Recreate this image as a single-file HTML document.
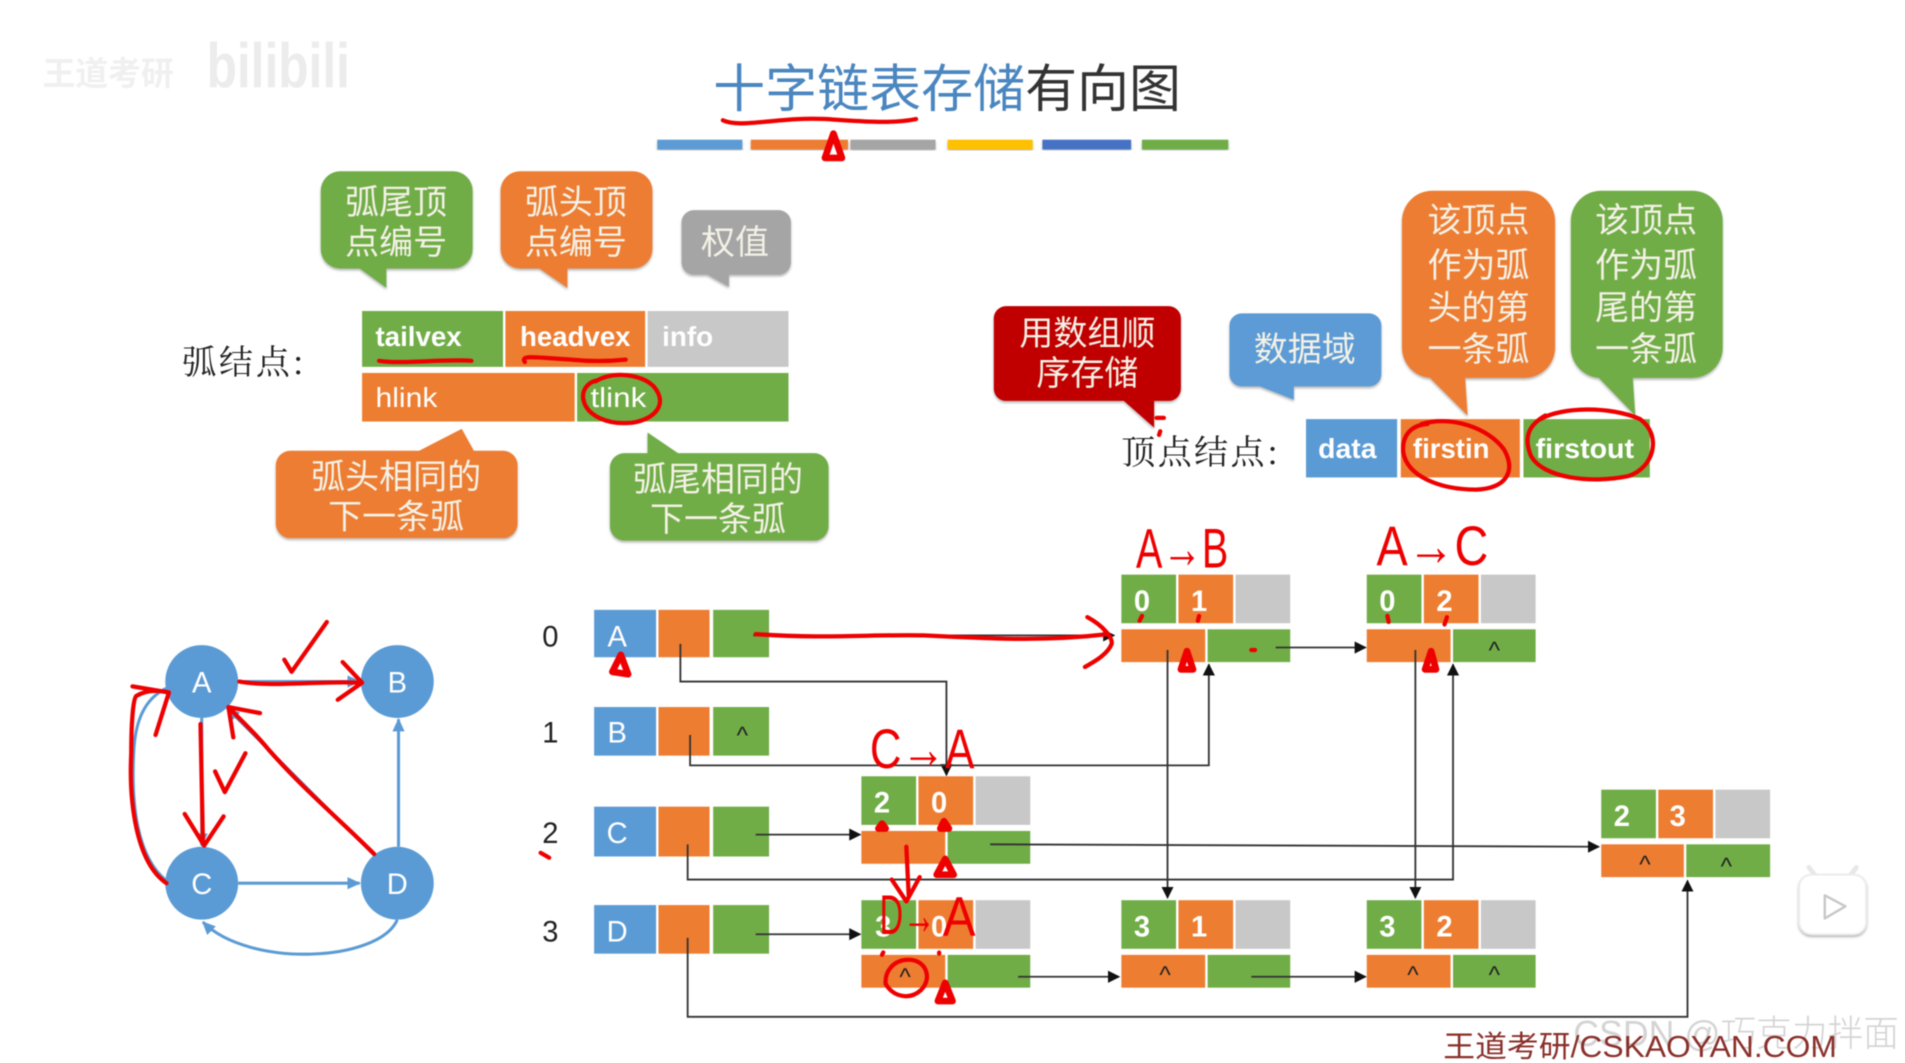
<!DOCTYPE html>
<html lang="zh"><head><meta charset="utf-8"><title>十字链表存储有向图</title>
<style>
html,body{margin:0;padding:0;background:#fff;width:1905px;height:1063px;overflow:hidden}
svg{display:block;filter:blur(.55px)}
text{font-family:"Liberation Sans","Noto Sans CJK SC",sans-serif}
.cj{font-family:"Noto Sans CJK SC",sans-serif;font-weight:400;fill:#f4f1e6;font-size:28px;text-anchor:middle}
.sf{font-family:"Noto Serif CJK SC",serif;fill:#222;font-size:28px}
.w{fill:#fff;font-weight:bold;font-size:23px}
.n{fill:#fff;font-weight:bold;font-size:24px;text-anchor:middle}
.h{fill:#222;font-size:20px;text-anchor:middle}
.idx{fill:#222;font-size:24px;text-anchor:middle}
.v{fill:#fff;font-size:24px;text-anchor:middle}
.hand{fill:#ee0000;font-size:46px}
.l{fill:none;stroke:#333;stroke-width:1.5}
.r{fill:none;stroke:#ee0000;stroke-width:3.5;stroke-linecap:round;stroke-linejoin:round}
.b{fill:none;stroke:#5b9bd5;stroke-width:2.5}
.t{fill:#fff;stroke:#ee0000;stroke-width:5.5;stroke-linejoin:round}
</style></head><body>
<svg xmlns="http://www.w3.org/2000/svg" width="1905" height="1063" viewBox="0 0 1568 875">
<defs>
<marker id="a" markerUnits="userSpaceOnUse" markerWidth="10" markerHeight="12" refX="9" refY="5" orient="auto"><path d="M0 0L10 5L0 10z" fill="#111"/></marker>
<marker id="ab" markerUnits="userSpaceOnUse" markerWidth="12" markerHeight="12" refX="10" refY="5" orient="auto"><path d="M0 0L11 5L0 10z" fill="#5b9bd5"/></marker>
<filter id="sh" x="-10%" y="-10%" width="120%" height="120%"><feDropShadow dx="0" dy="1.5" stdDeviation="1" flood-color="#000" flood-opacity=".3"/></filter>
</defs>
<rect width="1568" height="875" fill="#fff"/>

<!-- watermark -->
<text x="35" y="70" font-size="27" fill="#f0f0f0" font-weight="bold">王道考研</text>
<text x="170" y="72" font-size="52" fill="#ececec" font-weight="bold" textLength="118" lengthAdjust="spacingAndGlyphs">bilibili</text>

<!-- title -->
<text x="587" y="88" font-size="42.8" style="font-family:'Noto Sans CJK SC',sans-serif;font-weight:400"><tspan fill="#4a86c0">十字链表存储</tspan><tspan fill="#333">有向图</tspan></text>
<g filter="url(#sh)">
<rect x="541" y="115" width="70" height="8" fill="#5b9bd5"/>
<rect x="618" y="115" width="80" height="8" fill="#ed7d31"/>
<rect x="700" y="115" width="70" height="8" fill="#a5a5a5"/>
<rect x="780" y="115" width="70" height="8" fill="#ffc000"/>
<rect x="858" y="115" width="73" height="8" fill="#4472c4"/>
<rect x="940" y="115" width="71" height="8" fill="#70ad47"/>
</g>
<path class="r" d="M595 99C610 106 640 96 680 98C710 100 735 102 754 98" stroke-width="4"/>
<path class="t" d="M686 110L693 130L679 130Z" stroke-width="6"/>

<!-- top callouts -->
<g filter="url(#sh)">
<path fill="#70ad47" d="M280 141H373a16 16 0 0 1 16 16V205a16 16 0 0 1-16 16H318V237L296 221H280a16 16 0 0 1-16-16V157a16 16 0 0 1 16-16z"/>
<path fill="#ed7d31" d="M428 141H521a16 16 0 0 1 16 16V205a16 16 0 0 1-16 16H467V237L444 221H428a16 16 0 0 1-16-16V157a16 16 0 0 1 16-16z"/>
<path fill="#a5a5a5" d="M571 173H641a10 10 0 0 1 10 10V216a10 10 0 0 1-10 10H600V236L582 226H571a10 10 0 0 1-10-10V183a10 10 0 0 1 10-10z"/>
<path fill="#ed7d31" d="M239 371H345L380 353L390 371H414a12 12 0 0 1 12 12V431a12 12 0 0 1-12 12H239a12 12 0 0 1-12-12V383a12 12 0 0 1 12-12z"/>
<path fill="#70ad47" d="M514 373H533V356L558 373H670a12 12 0 0 1 12 12V433a12 12 0 0 1-12 12H514a12 12 0 0 1-12-12V385a12 12 0 0 1 12-12z"/>
<path fill="#c00000" d="M828 252H962a10 10 0 0 1 10 10V320a10 10 0 0 1-10 10H950V352L925 330H828a10 10 0 0 1-10-10V262a10 10 0 0 1 10-10z"/>
<path fill="#5b9bd5" d="M1022 258H1127a10 10 0 0 1 10 10V308a10 10 0 0 1-10 10H1065V329L1037 318H1022a10 10 0 0 1-10-10V268a10 10 0 0 1 10-10z"/>
<path fill="#ed7d31" d="M1179 157H1255a25 25 0 0 1 25 25V286a25 25 0 0 1-25 25H1206L1208 342L1177 311A25 25 0 0 1 1154 286V182a25 25 0 0 1 25-25z"/>
<path fill="#70ad47" d="M1318 157H1393a25 25 0 0 1 25 25V286a25 25 0 0 1-25 25H1344L1346 342L1316 311A25 25 0 0 1 1293 286V182a25 25 0 0 1 25-25z"/>
</g>
<text class="cj" x="326" y="176">弧尾顶</text><text class="cj" x="326" y="209">点编号</text>
<text class="cj" x="474" y="176">弧头顶</text><text class="cj" x="474" y="209">点编号</text>
<text class="cj" x="605" y="209">权值</text>
<text class="cj" x="326" y="402">弧头相同的</text><text class="cj" x="326" y="435">下一条弧</text>
<text class="cj" x="591" y="404">弧尾相同的</text><text class="cj" x="591" y="437">下一条弧</text>
<text class="cj" x="895" y="284">用数组顺</text><text class="cj" x="895" y="317">序存储</text>
<text class="cj" x="1074" y="297">数据域</text>
<text class="cj" x="1217" y="191">该顶点</text><text class="cj" x="1217" y="228">作为弧</text><text class="cj" x="1217" y="263">头的第</text><text class="cj" x="1217" y="297">一条弧</text>
<text class="cj" x="1355" y="191">该顶点</text><text class="cj" x="1355" y="228">作为弧</text><text class="cj" x="1355" y="263">尾的第</text><text class="cj" x="1355" y="297">一条弧</text>

<!-- arc node format -->
<text class="sf" x="150" y="308" textLength="100">弧结点:</text>
<rect x="298" y="256" width="116" height="46" fill="#70ad47"/>
<rect x="416" y="256" width="115" height="46" fill="#ed7d31"/>
<rect x="533" y="256" width="116" height="46" fill="#c8c8c8"/>
<rect x="298" y="307" width="175" height="40" fill="#ed7d31"/>
<rect x="475" y="307" width="174" height="40" fill="#70ad47"/>
<text class="w" x="309" y="285" textLength="71" lengthAdjust="spacingAndGlyphs">tailvex</text>
<text class="w" x="428" y="285" textLength="91" lengthAdjust="spacingAndGlyphs">headvex</text>
<text class="w" x="545" y="285" textLength="42" lengthAdjust="spacingAndGlyphs">info</text>
<text x="309" y="335" fill="#fff" font-size="23" textLength="51" lengthAdjust="spacingAndGlyphs">hlink</text>
<text x="486" y="335" fill="#fff" font-size="23" textLength="46" lengthAdjust="spacingAndGlyphs">tlink</text>
<path class="r" d="M312 297C330 300 370 295 388 297" stroke-width="5"/>
<path class="r" d="M432 298C428 292 440 294 470 296C490 298 505 297 515 296" stroke-width="4"/>
<path class="r" d="M490 314C505 305 528 308 538 318C550 332 540 345 520 348C500 350 482 342 480 328C479 320 485 314 492 313" stroke-width="4"/>

<!-- vertex node format -->
<text class="sf" x="923" y="382" textLength="129">顶点结点:</text>
<rect x="1075" y="345" width="75" height="48" fill="#5b9bd5"/>
<rect x="1153" y="345" width="98" height="48" fill="#ed7d31"/>
<rect x="1254" y="345" width="104" height="48" fill="#70ad47"/>
<text class="w" x="1085" y="377" textLength="48" lengthAdjust="spacingAndGlyphs">data</text>
<text class="w" x="1163" y="377" textLength="63" lengthAdjust="spacingAndGlyphs">firstin</text>
<text class="w" x="1264" y="377" textLength="81" lengthAdjust="spacingAndGlyphs">firstout</text>
<path class="r" d="M1170 349C1195 342 1225 352 1238 370C1248 388 1240 402 1215 403C1185 403 1158 392 1155 372C1154 360 1160 350 1175 349" stroke-width="4"/>
<path class="r" d="M1268 345C1285 335 1325 334 1350 345C1368 358 1362 385 1340 392C1310 398 1270 394 1260 375C1254 360 1258 350 1272 342" stroke-width="4"/>
<path class="r" d="M952 344L958 344M955 355L954 358"/>

<!-- index -->
<text class="idx" x="453" y="532">0</text><text class="idx" x="453" y="611">1</text><text class="idx" x="453" y="694">2</text><text class="idx" x="453" y="775">3</text>

<!-- vertices -->
<g>
<rect x="489" y="502" width="51" height="39" fill="#5b9bd5"/><rect x="542" y="502" width="42" height="39" fill="#ed7d31"/><rect x="587" y="502" width="46" height="39" fill="#70ad47"/>
<rect x="489" y="582" width="51" height="40" fill="#5b9bd5"/><rect x="542" y="582" width="42" height="40" fill="#ed7d31"/><rect x="587" y="582" width="46" height="40" fill="#70ad47"/>
<rect x="489" y="664" width="51" height="41" fill="#5b9bd5"/><rect x="542" y="664" width="42" height="41" fill="#ed7d31"/><rect x="587" y="664" width="46" height="41" fill="#70ad47"/>
<rect x="489" y="745" width="51" height="40" fill="#5b9bd5"/><rect x="542" y="745" width="42" height="40" fill="#ed7d31"/><rect x="587" y="745" width="46" height="40" fill="#70ad47"/>
</g>
<text class="v" x="508" y="532">A</text><text class="v" x="508" y="611">B</text><text class="v" x="508" y="694">C</text><text class="v" x="508" y="775">D</text>
<text class="h" x="611" y="612">^</text>

<!-- arc nodes -->
<g><rect x="923" y="473" width="45" height="40" fill="#70ad47"/><rect x="970" y="473" width="45" height="40" fill="#ed7d31"/><rect x="1017" y="473" width="45" height="40" fill="#c8c8c8"/><rect x="923" y="518" width="69" height="27" fill="#ed7d31"/><rect x="994" y="518" width="68" height="27" fill="#70ad47"/></g>
<g><rect x="1125" y="473" width="45" height="40" fill="#70ad47"/><rect x="1172" y="473" width="45" height="40" fill="#ed7d31"/><rect x="1219" y="473" width="45" height="40" fill="#c8c8c8"/><rect x="1125" y="518" width="69" height="27" fill="#ed7d31"/><rect x="1196" y="518" width="68" height="27" fill="#70ad47"/></g>
<g><rect x="709" y="639" width="45" height="40" fill="#70ad47"/><rect x="756" y="639" width="45" height="40" fill="#ed7d31"/><rect x="803" y="639" width="45" height="40" fill="#c8c8c8"/><rect x="709" y="684" width="69" height="27" fill="#ed7d31"/><rect x="780" y="684" width="68" height="27" fill="#70ad47"/></g>
<g><rect x="709" y="741" width="45" height="40" fill="#70ad47"/><rect x="756" y="741" width="45" height="40" fill="#ed7d31"/><rect x="803" y="741" width="45" height="40" fill="#c8c8c8"/><rect x="709" y="786" width="69" height="27" fill="#ed7d31"/><rect x="780" y="786" width="68" height="27" fill="#70ad47"/></g>
<g><rect x="923" y="741" width="45" height="40" fill="#70ad47"/><rect x="970" y="741" width="45" height="40" fill="#ed7d31"/><rect x="1017" y="741" width="45" height="40" fill="#c8c8c8"/><rect x="923" y="786" width="69" height="27" fill="#ed7d31"/><rect x="994" y="786" width="68" height="27" fill="#70ad47"/></g>
<g><rect x="1125" y="741" width="45" height="40" fill="#70ad47"/><rect x="1172" y="741" width="45" height="40" fill="#ed7d31"/><rect x="1219" y="741" width="45" height="40" fill="#c8c8c8"/><rect x="1125" y="786" width="69" height="27" fill="#ed7d31"/><rect x="1196" y="786" width="68" height="27" fill="#70ad47"/></g>
<g><rect x="1318" y="650" width="45" height="40" fill="#70ad47"/><rect x="1365" y="650" width="45" height="40" fill="#ed7d31"/><rect x="1412" y="650" width="45" height="40" fill="#c8c8c8"/><rect x="1318" y="695" width="68" height="27" fill="#ed7d31"/><rect x="1388" y="695" width="69" height="27" fill="#70ad47"/></g>

<text class="n" x="940" y="503">0</text><text class="n" x="987" y="503">1</text>
<text class="n" x="1142" y="503">0</text><text class="n" x="1189" y="503">2</text>
<text class="n" x="726" y="669">2</text><text class="n" x="773" y="669">0</text>
<text class="n" x="727" y="771">3</text><text class="n" x="773" y="771">0</text>
<text class="n" x="940" y="771">3</text><text class="n" x="987" y="771">1</text>
<text class="n" x="1142" y="771">3</text><text class="n" x="1189" y="771">2</text>
<text class="n" x="1335" y="680">2</text><text class="n" x="1381" y="680">3</text>
<text class="h" x="1230" y="542">^</text>
<text class="h" x="745" y="811">^</text>
<text class="h" x="959" y="809">^</text>
<text class="h" x="1163" y="809">^</text><text class="h" x="1230" y="809">^</text>
<text class="h" x="1354" y="718">^</text><text class="h" x="1421" y="720">^</text>

<!-- connectors -->
<path class="l" d="M620 523H917" marker-end="url(#a)"/>
<path class="l" d="M560 530V561H779V638" marker-end="url(#a)"/>
<path class="l" d="M568 605V630H995V547" marker-end="url(#a)"/>
<path class="l" d="M622 687H708" marker-end="url(#a)"/>
<path class="l" d="M566 695V724H1196V547" marker-end="url(#a)" stroke-width="2"/>
<path class="l" d="M622 769H708" marker-end="url(#a)"/>
<path class="l" d="M566 772V837H1389V725" marker-end="url(#a)"/>
<path class="l" d="M1050 533H1124" marker-end="url(#a)"/>
<path class="l" d="M961 535V739" marker-end="url(#a)"/>
<path class="l" d="M1165 535V739" marker-end="url(#a)"/>
<path class="l" d="M815 695L1316 697" marker-end="url(#a)" stroke-width="2"/>
<path class="l" d="M838 804H921" marker-end="url(#a)"/>
<path class="l" d="M1030 804H1124" marker-end="url(#a)"/>

<!-- graph -->
<path class="b" d="M196 561H296" marker-end="url(#ab)"/>
<path class="b" d="M166 591V696" marker-end="url(#ab)"/>
<path class="b" d="M196 727H296" marker-end="url(#ab)"/>
<path class="b" d="M328 697V592" marker-end="url(#ab)"/>
<path class="b" d="M309 705L187 583" marker-end="url(#ab)"/>
<path class="b" d="M327 757C312 792 205 797 167 759" marker-end="url(#ab)"/>
<path class="b" d="M137 725C112 705 108 660 110 620C111 595 118 575 138 566"/>
<circle cx="166" cy="561" r="30" fill="#5b9bd5"/><circle cx="327" cy="561" r="30" fill="#5b9bd5"/>
<circle cx="166" cy="727" r="30" fill="#5b9bd5"/><circle cx="327" cy="727" r="30" fill="#5b9bd5"/>
<text class="v" x="166" y="570">A</text><text class="v" x="327" y="570">B</text><text class="v" x="166" y="736">C</text><text class="v" x="327" y="736">D</text>

<!-- red annotations: graph -->
<path class="r" d="M197 561C225 566 265 560 296 562M282 545L298 562L278 576" stroke-width="4.5"/>
<path class="r" d="M165 596L167 694M152 670L168 696L184 672" stroke-width="4"/>
<path class="r" d="M308 703C280 675 250 650 221 617C207 600 195 590 188 582M192 607L188 582L214 587" stroke-width="4.5"/>
<path class="r" d="M137 727C112 710 106 660 108 620C108 590 110 575 112 573C120 568 130 568 139 570M109 565L139 570L128 605" stroke-width="4"/>
<path class="r" d="M234 543L240 553L269 512" stroke-width="4"/>
<path class="r" d="M177 635L185 652L202 620" stroke-width="4"/>
<path class="r" d="M445 702L452 706"/>
<path class="r" d="M622 522C680 526 720 522 760 523C820 526 860 528 912 522M895 508C908 515 916 525 915 530C912 538 902 544 893 549" stroke-width="4.5"/>

<!-- red annotations: labels -->
<text class="hand" x="935" y="467" textLength="76" lengthAdjust="spacingAndGlyphs">A→B</text>
<text class="hand" x="1133" y="465" textLength="92" lengthAdjust="spacingAndGlyphs">A→C</text>
<text class="hand" x="716" y="632" textLength="86" lengthAdjust="spacingAndGlyphs">C→A</text>
<text class="hand" x="724" y="769" font-size="22" textLength="46" lengthAdjust="spacingAndGlyphs">D→</text>
<text class="hand" x="776" y="770" font-size="44" textLength="27" lengthAdjust="spacingAndGlyphs">A</text>

<!-- red small triangles and marks -->
<path class="t" d="M511 539L517 555L504 553Z" stroke-width="3.5"/>
<path class="t" d="M977 536L982 551L972 551Z"/>
<path class="t" d="M1178 536L1182 551L1173 551Z"/>
<path class="t" d="M778 707L785 720L771 720Z"/>
<path class="t" d="M778 809L784 824L772 824Z"/>
<path class="t" d="M726 678L729 682L723 682Z" stroke-width="2.5"/>
<path class="t" d="M777 676L781 682L774 682Z" stroke-width="2.5"/>
<path class="r" d="M746 697L748 738M734 724L746 742L757 722" stroke-width="6"/>
<path class="r" d="M748 790C762 790 768 805 758 815C748 824 735 820 729 810C728 800 735 790 748 790" stroke-width="5"/>
<path class="r" d="M940 507L938 511M987 507L986 511M1142 507L1143 512M1191 508L1189 514M727 784L726 786M773 784L773 785M1030 535L1033 535" stroke-width="3.5"/>

<!-- footer -->
<text x="1295" y="861" font-size="30" fill="#d4d4d4" font-weight="300" textLength="268" lengthAdjust="spacingAndGlyphs">CSDN @巧克力拌面</text>
<text x="1188" y="870" font-size="25" fill="#8a2f2a" textLength="324" lengthAdjust="spacingAndGlyphs">王道考研/CSKAOYAN.COM</text>

<!-- play icon -->
<path d="M1495 722L1489 714M1522 722L1528 714" stroke="#e8e8e8" stroke-width="4" stroke-linecap="round"/>
<rect x="1481" y="720" width="55" height="49" rx="10" fill="#fff" stroke="#ececec" stroke-width="1.5" filter="url(#sh)"/>
<path d="M1502 737L1519 746L1502 756Z" fill="#fff" stroke="#c8c8c8" stroke-width="2" stroke-linejoin="round"/>
</svg>
</body></html>
